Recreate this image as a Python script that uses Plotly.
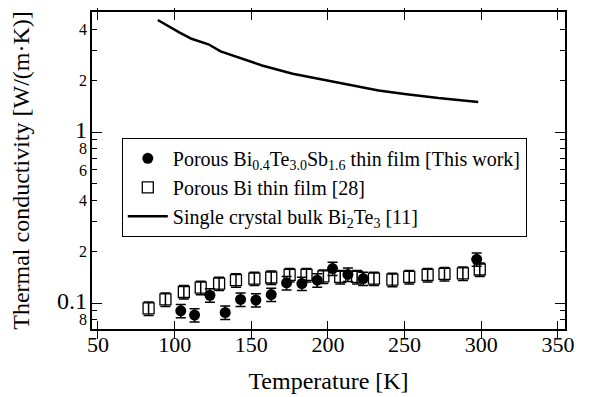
import plotly.graph_objects as go

# ---- data ----
film_T = [104, 113, 123, 133, 143, 153, 163, 173, 183, 193, 203, 213, 223, 297]
film_k = [0.090, 0.085, 0.111, 0.088, 0.105, 0.104, 0.112, 0.131, 0.130, 0.136,
          0.159, 0.147, 0.139, 0.180]

bi_T = [83, 94, 106, 117, 129, 140, 152, 163, 175, 186, 197, 208, 219, 230,
        242, 253, 265, 276, 288, 299]
bi_k = [0.093, 0.105, 0.116, 0.123, 0.130, 0.136, 0.139, 0.141, 0.146, 0.146,
        0.143, 0.142, 0.142, 0.139, 0.137, 0.142, 0.146, 0.148, 0.149, 0.157]

bulk_T = [89, 95, 103, 111, 122, 130, 142, 157, 177, 195, 209, 233, 250, 272, 298]
bulk_k = [4.52, 4.19, 3.83, 3.51, 3.26, 2.96, 2.71, 2.45, 2.19, 2.04, 1.92,
          1.75, 1.67, 1.58, 1.50]

err_pct = 9

x_ticks = [50, 100, 150, 200, 250, 300, 350]
y_tickvals = [0.08, 0.1, 0.2, 0.4, 0.6, 0.8, 1, 2, 4]
y_ticklabels = ["8", "0.1", "2", "4", "6", "8", "1", "2", "4"]
y_major = [0.1, 1]
y_minor = [0.09, 0.3, 0.5, 0.7, 0.9, 3, 5]

names = [
    "Porous Bi<sub>0.4</sub>Te<sub>3.0</sub>Sb<sub>1.6</sub> thin film [This work]",
    "Porous Bi thin film [28]",
    "Single crystal bulk Bi<sub>2</sub>Te<sub>3</sub> [11]",
]

FONT = "Liberation Serif, Times New Roman, serif"

ticktext = [
    f'<span style="font-size:24px">{t}</span>' if v in y_major else t
    for v, t in zip(y_tickvals, y_ticklabels)
]

fig = go.Figure()
fig.add_trace(go.Scatter(
    x=film_T, y=film_k, mode="markers", name=names[0],
    marker=dict(symbol="circle", size=11, color="black"),
    error_y=dict(type="percent", value=err_pct, color="black", thickness=1.5, width=5),
))
fig.add_trace(go.Scatter(
    x=bi_T, y=bi_k, mode="markers", name=names[1],
    marker=dict(symbol="square-open", size=11, color="black", line=dict(width=1.3)),
    error_y=dict(type="percent", value=err_pct, color="black", thickness=1.5, width=5),
))
fig.add_trace(go.Scatter(
    x=bulk_T, y=bulk_k, mode="lines", name=names[2],
    line=dict(color="black", width=2.5),
))
# empty trace so the overlay axis carrying the long decade ticks is drawn
fig.add_trace(go.Scatter(x=[], y=[], yaxis="y2", showlegend=False, hoverinfo="skip"))

yrange = [-1.152, 0.702]
# the page body has an 8px default margin, so the figure is sized/offset for it
fig.update_layout(
    width=584, height=389,
    margin=dict(l=84, r=27, t=4, b=68),
    paper_bgcolor="white", plot_bgcolor="white",
    font=dict(family=FONT, color="black"),
    showlegend=True,
    legend=dict(
        x=0.063, y=0.603, xanchor="left", yanchor="top",
        bgcolor="white", bordercolor="black", borderwidth=1,
        font=dict(family=FONT, size=20, color="black"),
        tracegroupgap=0, itemwidth=40,
    ),
    xaxis=dict(
        range=[46.1, 354.6], tickvals=x_ticks, automargin=False,
        ticks="inside", ticklen=8, tickwidth=1.3, tickcolor="black",
        showline=True, linecolor="black", linewidth=1.5, mirror="allticks",
        showgrid=False, zeroline=False, ticklabelstandoff=-5,
        tickfont=dict(family=FONT, size=22),
        title=dict(text="Temperature [K]", font=dict(family=FONT, size=24), standoff=16),
    ),
    yaxis=dict(
        type="log", range=yrange, automargin=False,
        tickmode="array", tickvals=y_tickvals, ticktext=ticktext,
        ticks="inside", ticklen=5, tickwidth=1.3, tickcolor="black",
        minor=dict(tickmode="array", tickvals=y_minor, ticks="inside", ticklen=5,
                   tickwidth=1.3, tickcolor="black", showgrid=False),
        showline=True, linecolor="black", linewidth=1.5, mirror="allticks",
        showgrid=False, zeroline=False,
        tickfont=dict(family=FONT, size=16),
        title=dict(text="Thermal conductivity [W/(m·K)]", font=dict(family=FONT, size=24),
                   standoff=22),
    ),
    yaxis2=dict(
        type="log", range=yrange, overlaying="y", side="left", automargin=False,
        tickmode="array", tickvals=y_major, showticklabels=False,
        ticks="inside", ticklen=10, tickwidth=1.3, tickcolor="black",
        showline=True, linecolor="black", linewidth=1.5, mirror="ticks",
        showgrid=False, zeroline=False,
    ),
)

fig.write_html("out.html")
